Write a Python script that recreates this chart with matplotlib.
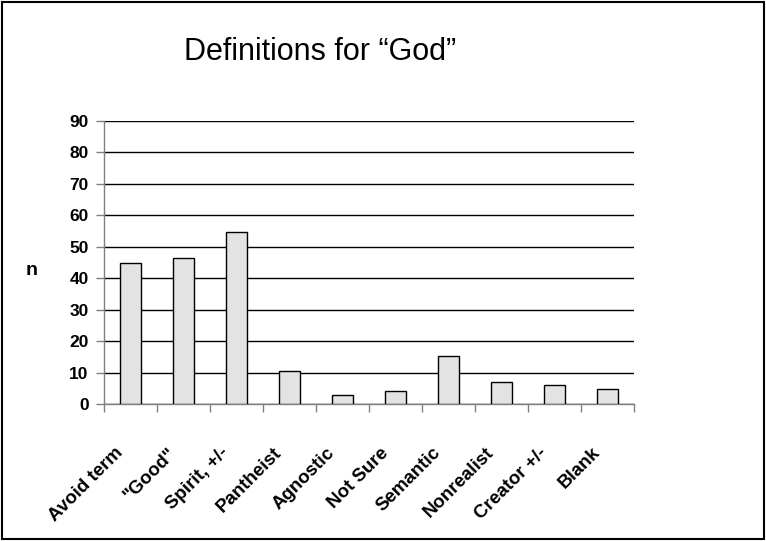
import numpy as np
import matplotlib.pyplot as plt
from matplotlib.patches import Rectangle
from matplotlib.transforms import ScaledTranslation

# Categories and counts
categories = ["Avoid term", "\"Good\"", "Spirit, +/-", "Pantheist", "Agnostic",
              "Not Sure", "Semantic", "Nonrealist", "Creator +/-", "Blank"]
counts = [45, 46.5, 54.6, 10.4, 2.9, 4.1, 15.4, 7.0, 6.0, 4.9]
yticks = [0, 10, 20, 30, 40, 50, 60, 70, 80, 90]

plt.rcParams['font.family'] = ['Liberation Sans', 'DejaVu Sans']

fig = plt.figure(figsize=(7.66, 5.41), dpi=100)
ax = fig.add_axes([0.1358, 0.2532, 0.6919, 0.5231])

x = np.arange(len(categories))
ax.bar(x, counts, width=0.4, color="#e3e3e3", edgecolor="black", linewidth=1, zorder=3)

ax.set_xlim(-0.5, len(categories) - 0.5)
ax.set_ylim(0, 90)
ax.set_yticks(yticks)
ax.set_yticklabels([str(v) for v in yticks], fontsize=12.5, fontweight="bold")
ax.yaxis.grid(True, color="black", linewidth=1, zorder=0)

# ticks between categories, labels on centers
ax.set_xticks(np.arange(len(categories) + 1) - 0.5)
ax.set_xticklabels([])
ax.set_xticks(x, minor=True)
ax.set_xticklabels(categories, minor=True, rotation=45, ha="right",
                   rotation_mode="anchor", fontsize=13.5, fontweight="bold")
ax.tick_params(axis="x", which="minor", length=0, pad=29)
ax.tick_params(axis="x", which="major", length=6, color="#808080", width=1)
ax.tick_params(axis="y", length=6, color="#808080", width=1, pad=5)

shift = ScaledTranslation(-16 / 100, 0, fig.dpi_scale_trans)
for lbl in ax.get_xticklabels(minor=True):
    lbl.set_transform(lbl.get_transform() + shift)

for side in ["top", "right"]:
    ax.spines[side].set_visible(False)
for side in ["left", "bottom"]:
    ax.spines[side].set_color("#808080")
    ax.spines[side].set_linewidth(1)

fig.text(0.041, 0.50, "n", fontsize=14, fontweight="bold", ha="center", va="center")
fig.text(0.418, 0.889, "Definitions for \u201cGod\u201d", fontsize=22,
         ha="center", va="baseline")

fig.patches.append(Rectangle((0.003, 0.004), 0.994, 0.992, transform=fig.transFigure,
                             fill=False, edgecolor="black", linewidth=1.5))

fig.savefig("out.png", dpi=100)
